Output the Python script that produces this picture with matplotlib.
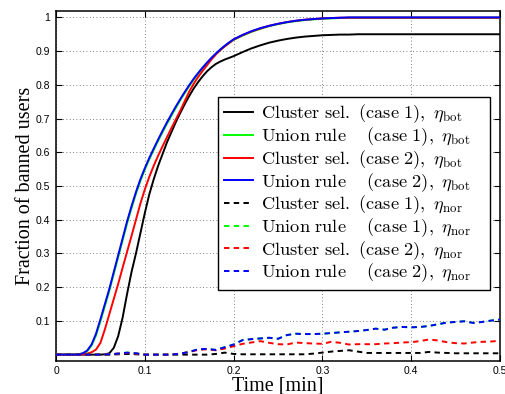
import matplotlib
matplotlib.use("Agg")
import matplotlib.pyplot as plt

plt.rcParams['mathtext.fontset'] = 'cm'

# time axis [min] for eta_bot curves (finer in the rising part)
time_bot = [0.0, 0.01,
            0.02, 0.025, 0.03, 0.035, 0.04, 0.045, 0.05, 0.055, 0.06, 0.065,
            0.07, 0.075, 0.08, 0.085, 0.09, 0.095, 0.10, 0.105, 0.11, 0.115,
            0.12, 0.125, 0.13, 0.135, 0.14, 0.145, 0.15, 0.155, 0.16, 0.165,
            0.17, 0.175, 0.18, 0.185, 0.19, 0.195, 0.20,
            0.21, 0.22, 0.23, 0.24, 0.25, 0.26, 0.27, 0.28, 0.29, 0.30,
            0.31, 0.32, 0.33, 0.34, 0.35, 0.36, 0.37, 0.38, 0.39, 0.40,
            0.41, 0.42, 0.43, 0.44, 0.45, 0.46, 0.47, 0.48, 0.49, 0.50]

cluster1_bot = [0, 0,
                0, 0, 0, 0, 0, 0, 0, 0.001, 0.004, 0.02,
                0.055, 0.11, 0.18, 0.245, 0.30, 0.36, 0.42, 0.475, 0.52, 0.56,
                0.595, 0.63, 0.66, 0.69, 0.717, 0.743, 0.767, 0.789, 0.808, 0.825,
                0.840, 0.852, 0.862, 0.869, 0.875, 0.880, 0.885,
                0.897, 0.908, 0.917, 0.925, 0.931, 0.936, 0.940, 0.943, 0.945, 0.947,
                0.948, 0.949, 0.949, 0.95, 0.95, 0.95, 0.95, 0.95, 0.95, 0.95,
                0.95, 0.95, 0.95, 0.95, 0.95, 0.95, 0.95, 0.95, 0.95, 0.95]
union1_bot = [0, 0,
              0.000, 0.001, 0.003, 0.010, 0.027, 0.057, 0.099, 0.144, 0.189, 0.239,
              0.289, 0.339, 0.389, 0.434, 0.477, 0.515, 0.549, 0.579, 0.607, 0.634,
              0.660, 0.685, 0.709, 0.732, 0.755, 0.776, 0.796, 0.815, 0.833, 0.849,
              0.864, 0.878, 0.891, 0.903, 0.914, 0.924, 0.933,
              0.946, 0.957, 0.966, 0.974, 0.980, 0.985, 0.989, 0.992, 0.994, 0.996,
              0.997, 0.998, 0.999, 0.999, 0.999, 0.999, 0.999, 0.999, 0.999, 0.999,
              0.999, 0.999, 0.999, 0.999, 0.999, 0.999, 0.999, 0.999, 0.999, 0.999]
cluster2_bot = [0, 0,
                0.000, 0.000, 0.001, 0.003, 0.007, 0.015, 0.035, 0.075, 0.120, 0.165,
                0.210, 0.258, 0.305, 0.352, 0.400, 0.448, 0.490, 0.527, 0.560, 0.590,
                0.618, 0.645, 0.672, 0.698, 0.724, 0.752, 0.780, 0.803, 0.823, 0.841,
                0.858, 0.875, 0.890, 0.903, 0.914, 0.924, 0.934,
                0.947, 0.958, 0.967, 0.975, 0.981, 0.986, 0.990, 0.993, 0.995, 0.997,
                0.998, 0.999, 0.999, 0.999, 0.999, 0.999, 0.999, 0.999, 0.999, 0.999,
                0.999, 0.999, 0.999, 0.999, 0.999, 0.999, 0.999, 0.999, 0.999, 0.999]
union2_bot = [0, 0,
              0.000, 0.001, 0.004, 0.012, 0.030, 0.062, 0.105, 0.150, 0.195, 0.245,
              0.295, 0.345, 0.395, 0.440, 0.482, 0.520, 0.553, 0.583, 0.611, 0.638,
              0.664, 0.689, 0.713, 0.736, 0.758, 0.779, 0.799, 0.818, 0.835, 0.851,
              0.866, 0.880, 0.893, 0.905, 0.916, 0.926, 0.935,
              0.948, 0.959, 0.968, 0.975, 0.981, 0.986, 0.990, 0.993, 0.995, 0.997,
              0.998, 0.999, 1.0, 1.0, 1.0, 1.0, 1.0, 1.0, 1.0, 1.0,
              1.0, 1.0, 1.0, 1.0, 1.0, 1.0, 1.0, 1.0, 1.0, 1.0]

# time axis [min] for eta_nor curves
time_nor = [0.00, 0.01, 0.02, 0.03, 0.04, 0.05, 0.06, 0.07, 0.08, 0.09,
            0.10, 0.11, 0.12, 0.13, 0.14, 0.15, 0.16, 0.17, 0.18, 0.19,
            0.20, 0.21, 0.22, 0.23, 0.24, 0.25, 0.26, 0.27, 0.28, 0.29,
            0.30, 0.31, 0.32, 0.33, 0.34, 0.35, 0.36, 0.37, 0.38, 0.39,
            0.40, 0.41, 0.42, 0.43, 0.44, 0.45, 0.46, 0.47, 0.48, 0.49, 0.50]

cluster1_nor = [0, 0, 0, 0, 0, 0, 0, 0.001, 0.002, 0.001,
                0, 0, 0, 0, 0, 0, 0, 0, 0.002, 0.006,
                0.002, 0.001, 0.001, 0.001, 0.001, 0.001, 0.001, 0.001, 0.001, 0.003,
                0.006, 0.009, 0.011, 0.013, 0.009, 0.005, 0.005, 0.005, 0.005, 0.005,
                0.005, 0.005, 0.008, 0.006, 0.005, 0.004, 0.004, 0.004, 0.004, 0.004, 0.004]
union1_nor = [0, 0, 0, 0, 0, 0, 0.001, 0.003, 0.006, 0.004,
              0, 0, 0, 0, 0.003, 0.008, 0.016, 0.017, 0.014, 0.022,
              0.030, 0.043, 0.046, 0.048, 0.050, 0.047, 0.058, 0.062, 0.061, 0.061,
              0.062, 0.064, 0.066, 0.068, 0.070, 0.073, 0.077, 0.074, 0.080, 0.082,
              0.081, 0.082, 0.085, 0.090, 0.095, 0.097, 0.099, 0.094, 0.097, 0.101, 0.104]
cluster2_nor = [0, 0, 0, 0, 0, 0, 0.001, 0.003, 0.005, 0.003,
                0, 0, 0, 0, 0.003, 0.008, 0.014, 0.016, 0.013, 0.018,
                0.025, 0.032, 0.036, 0.040, 0.035, 0.031, 0.030, 0.036, 0.034, 0.033,
                0.032, 0.038, 0.035, 0.030, 0.031, 0.031, 0.031, 0.033, 0.034, 0.036,
                0.037, 0.040, 0.045, 0.042, 0.037, 0.034, 0.033, 0.036, 0.038, 0.039, 0.041]
union2_nor = [0, 0, 0, 0, 0, 0, 0.001, 0.003, 0.006, 0.004,
              0, 0, 0, 0, 0.003, 0.008, 0.016, 0.017, 0.014, 0.022,
              0.030, 0.043, 0.046, 0.048, 0.050, 0.047, 0.058, 0.062, 0.061, 0.061,
              0.062, 0.064, 0.066, 0.068, 0.070, 0.073, 0.077, 0.074, 0.080, 0.082,
              0.081, 0.082, 0.085, 0.090, 0.095, 0.097, 0.099, 0.094, 0.097, 0.101, 0.104]

labels = [
    r'$\mathrm{Cluster\ sel.\ (case\ 1),}\ \eta_{\mathrm{bot}}$',
    r'$\mathrm{Union\ rule\ \ \ \ (case\ 1),}\ \eta_{\mathrm{bot}}$',
    r'$\mathrm{Cluster\ sel.\ (case\ 2),}\ \eta_{\mathrm{bot}}$',
    r'$\mathrm{Union\ rule\ \ \ \ (case\ 2),}\ \eta_{\mathrm{bot}}$',
    r'$\mathrm{Cluster\ sel.\ (case\ 1),}\ \eta_{\mathrm{nor}}$',
    r'$\mathrm{Union\ rule\ \ \ \ (case\ 1),}\ \eta_{\mathrm{nor}}$',
    r'$\mathrm{Cluster\ sel.\ (case\ 2),}\ \eta_{\mathrm{nor}}$',
    r'$\mathrm{Union\ rule\ \ \ \ (case\ 2),}\ \eta_{\mathrm{nor}}$',
]
colors = ['black', '#00ff00', 'red', 'blue']

xticks = [0, 0.1, 0.2, 0.3, 0.4, 0.5]
xticklabels = ['0', '0.1', '0.2', '0.3', '0.4', '0.5']
yticks = [0.1, 0.2, 0.3, 0.4, 0.5, 0.6, 0.7, 0.8, 0.9, 1.0]
yticklabels = ['0.1', '0.2', '0.3', '0.4', '0.5', '0.6', '0.7', '0.8', '0.9', '1']

fig = plt.figure(figsize=(5.05, 3.94), dpi=100)
ax = fig.add_axes([0.111, 0.0845, 0.879, 0.8885])

bot = [cluster1_bot, union1_bot, cluster2_bot, union2_bot]
nor = [cluster1_nor, union1_nor, cluster2_nor, union2_nor]
lw = 1.4
for i in range(4):
    ax.plot(time_bot, bot[i], color=colors[i], lw=lw, label=labels[i], zorder=3)
for i in range(4):
    ax.plot(time_nor, nor[i], color=colors[i], lw=lw, ls=(0, (2.8, 2.2)),
            label=labels[4 + i], zorder=3)

ax.set_xlim(0, 0.5)
ax.set_ylim(-0.018, 1.02)
ax.set_xticks(xticks)
ax.set_xticklabels(xticklabels)
ax.set_yticks(yticks)
ax.set_yticklabels(yticklabels)
ax.tick_params(direction='in', length=4, width=0.8, top=True, right=True,
               labelsize=7.5, pad=4)
for lab in ax.get_xticklabels() + ax.get_yticklabels():
    lab.set_fontfamily('Liberation Sans')
for s in ax.spines.values():
    s.set_linewidth(1.1)
ax.grid(True, color='#555555', lw=0.6, ls=(0, (1, 3)))

ax.set_xlabel('Time [min]', family='Liberation Serif', fontsize=14.5, labelpad=0)
ax.set_ylabel('Fraction of banned users', family='Liberation Serif', fontsize=14.5,
              labelpad=1)

leg = ax.legend(loc='lower left', bbox_to_anchor=(0.365, 0.202, 0.612, 0.55),
                mode='expand', fontsize=13.2,
                frameon=True, fancybox=False, framealpha=1, edgecolor='black',
                handlelength=1.6, labelspacing=0.0, borderpad=0.3,
                handletextpad=0.45, borderaxespad=0)
leg.get_frame().set_linewidth(1.0)

fig.savefig('out.png', dpi=100)
